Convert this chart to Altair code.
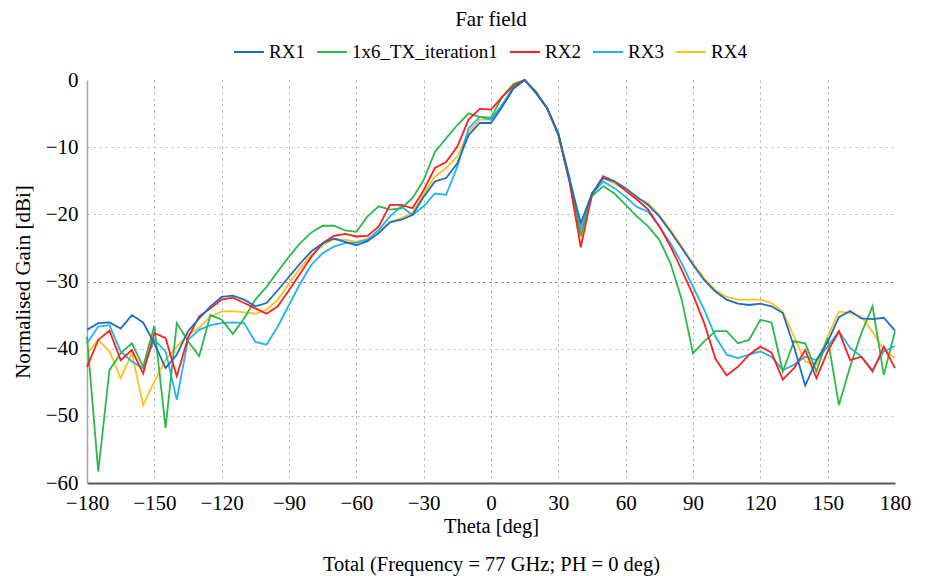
import altair as alt
import pandas as pd

theta = list(range(-180, 181, 5))

rx1 = [-37.2, -36.2, -36.1, -37.0, -35.0, -36.1, -39.2, -42.9, -40.9, -37.4, -35.5, -33.7, -32.3,
       -32.1, -32.7, -33.7, -33.2, -31.3, -29.3, -27.3, -25.5, -24.3, -23.6, -24.1, -24.6, -24.0,
       -22.8, -21.2, -20.8, -20.1, -17.4, -15.1, -14.6, -12.4, -8.2, -6.4, -6.4, -4.0, -1.3, 0.0,
       -1.9, -4.2, -8.0, -14.9, -21.3, -16.9, -14.6, -15.1, -16.1, -17.4, -18.6, -20.3, -22.6,
       -25.0, -27.5, -29.8, -31.5, -32.7, -33.3, -33.5, -33.3, -33.7, -34.7, -39.7, -45.5, -41.7,
       -39.0, -35.3, -34.4, -35.5, -35.6, -35.4, -37.3]

tx_iter1 = [-38.2, -58.3, -43.2, -40.7, -39.2, -42.7, -36.6, -51.8, -36.2, -38.9, -41.1, -35.0, -35.7,
            -37.8, -35.5, -32.7, -30.8, -28.5, -26.3, -24.3, -22.7, -21.7, -21.7, -22.4, -22.6, -20.3,
            -18.8, -19.3, -19.1, -17.6, -14.9, -10.7, -8.7, -6.7, -5.0, -5.5, -5.6, -2.5, -0.6, 0.0,
            -1.7, -4.2, -8.3, -15.0, -23.2, -17.3, -15.8, -16.9, -18.6, -20.3, -21.8, -23.8, -27.3,
            -32.7, -40.7, -38.9, -37.4, -37.4, -39.2, -38.7, -35.7, -36.1, -43.4, -38.9, -39.2, -43.4,
            -38.4, -48.4, -42.7, -37.7, -33.7, -43.9, -37.4]

rx2 = [-42.7, -38.7, -37.3, -41.7, -40.2, -43.7, -37.7, -38.4, -44.1, -38.4, -35.2, -34.0, -32.7,
       -32.4, -33.2, -34.0, -34.8, -33.7, -31.3, -28.8, -26.3, -24.3, -23.2, -22.9, -23.3, -23.2,
       -21.8, -18.6, -18.6, -19.1, -16.4, -13.1, -12.2, -9.9, -5.9, -4.3, -4.4, -2.5, -0.9, 0.0,
       -1.9, -4.2, -8.0, -15.2, -24.9, -17.0, -14.3, -15.1, -16.5, -17.8, -19.3, -21.8, -24.8,
       -28.3, -32.0, -36.2, -41.5, -44.0, -42.7, -40.9, -39.7, -40.6, -44.6, -42.9, -40.2, -44.4,
       -40.4, -37.4, -41.7, -41.2, -43.4, -39.7, -42.9]

rx3 = [-39.2, -36.7, -36.5, -40.4, -41.9, -42.9, -38.7, -40.4, -47.6, -38.7, -37.2, -36.5, -36.2,
       -36.1, -36.2, -39.0, -39.4, -36.7, -33.5, -30.3, -27.5, -25.8, -24.8, -24.3, -24.2, -23.8,
       -22.3, -20.3, -18.8, -20.1, -18.8, -16.9, -17.1, -12.9, -7.2, -5.5, -5.9, -3.7, -1.1, 0.0,
       -1.9, -4.2, -8.0, -14.5, -22.2, -17.0, -15.1, -16.1, -17.4, -18.9, -19.6, -21.8, -24.3,
       -27.3, -30.8, -34.2, -38.2, -40.9, -41.4, -40.9, -40.4, -41.2, -43.2, -42.4, -41.2, -41.7,
       -39.7, -37.4, -39.9, -41.2, -43.2, -40.4, -39.6]

rx4 = [-40.7, -38.7, -40.4, -44.4, -40.7, -48.4, -44.9, -41.7, -39.7, -37.9, -36.9, -35.2, -34.5,
       -34.4, -34.6, -34.8, -34.2, -32.7, -30.3, -28.0, -26.0, -24.6, -23.7, -23.8, -24.1, -23.6,
       -22.6, -21.1, -20.6, -19.8, -16.9, -14.4, -13.1, -11.4, -7.7, -5.9, -5.9, -3.7, -1.1, 0.0,
       -1.9, -4.2, -8.0, -15.0, -23.4, -16.9, -14.6, -15.4, -16.4, -17.6, -18.3, -20.1, -22.3,
       -24.8, -27.3, -29.5, -31.3, -32.3, -32.7, -32.7, -32.7, -33.2, -34.5, -38.2, -41.9, -42.4,
       -38.2, -34.5, -34.7, -35.2, -37.5, -40.2, -41.4]

series_names = ["RX1", "1x6_TX_iteration1", "RX2", "RX3", "RX4"]
series_colors = ["#1F6DC0", "#2DB84B", "#FF1F1F", "#1FB4F2", "#FFC21A"]
draw_order = ["RX4", "RX3", "1x6_TX_iteration1", "RX2", "RX1"]
values = {"RX1": rx1, "1x6_TX_iteration1": tx_iter1, "RX2": rx2, "RX3": rx3, "RX4": rx4}

rows = []
for name in draw_order:
    for t, v in zip(theta, values[name]):
        rows.append({"theta": t, "gain": v, "series": name})
df = pd.DataFrame(rows)

FONT = "Liberation Serif"

x_enc = alt.X(
    "theta:Q",
    scale=alt.Scale(domain=[-180, 180], nice=False),
    axis=alt.Axis(
        values=list(range(-180, 181, 30)),
        title=["Theta [deg]", "Total (Frequency = 77 GHz; PH = 0 deg)"],
        titleLineHeight=38,
        titlePadding=3,
        titleFont=FONT, titleFontSize=20.5, titleFontWeight="normal", titleColor="#000",
        labelFont=FONT, labelFontSize=21, labelColor="#000", labelPadding=9,
        labelFlush=False, labelOverlap=False,
        ticks=False,
        domainColor="#595959", domainWidth=2,
        grid=True,
        gridDash=[2, 4],
        gridColor="#a8a8a8",
        gridOpacity={"condition": {"test": "datum.value === -180 || datum.value === 180", "value": 0}, "value": 1},
    ),
)

y_enc = alt.Y(
    "gain:Q",
    scale=alt.Scale(domain=[-60, 0], nice=False),
    axis=alt.Axis(
        values=list(range(-60, 1, 10)),
        title="Normalised Gain [dBi]",
        titlePadding=12,
        titleFont=FONT, titleFontSize=21, titleFontWeight="normal", titleColor="#000",
        labelFont=FONT, labelFontSize=21, labelColor="#000", labelPadding=9,
        labelFlush=False, labelOverlap=False,
        ticks=False,
        domainColor="#a6a6a6", domainWidth=1.5,
        grid=True,
        gridDash=[2, 4],
        gridColor={"condition": {"test": "datum.value === -30", "value": "#6e6e6e"}, "value": "#b8b8b8"},
        gridOpacity={"condition": {"test": "datum.value === 0 || datum.value === -60", "value": 0}, "value": 1},
    ),
)

lines = alt.Chart(df).mark_line(strokeWidth=1.8).encode(
    x=x_enc,
    y=y_enc,
    color=alt.Color(
        "series:N",
        scale=alt.Scale(domain=series_names, range=series_colors),
        legend=alt.Legend(
            title=None,
            orient="none",
            legendX=146,
            legendY=-44,
            direction="horizontal",
            symbolType="stroke",
            symbolSize=900,
            symbolStrokeWidth=2,
            labelFont=FONT,
            labelFontSize=19,
            labelColor="#000",
            labelOffset=4,
            columnPadding=8,
            padding=0,
        ),
    ),
    detail="series:N",
)

chart = lines.properties(
    width=808,
    height=403,
    title=alt.TitleParams("Far field", font=FONT, fontSize=21, fontWeight="normal", color="#000", offset=6),
    padding={"left": 79, "top": 72, "right": 24, "bottom": 96},
    autosize=alt.AutoSizeParams(type="none"),
).configure_view(stroke=None)

chart.save("out.html", embed_options={"renderer": "svg", "actions": False})
